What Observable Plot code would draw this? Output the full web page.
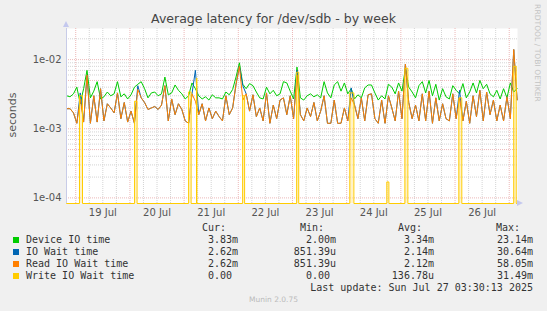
<!DOCTYPE html>
<html><head><meta charset="utf-8">
<script src="https://cdn.jsdelivr.net/npm/d3@7"></script>
<script src="https://cdn.jsdelivr.net/npm/@observablehq/plot@0.6"></script>
<style>
html,body{margin:0;padding:0;background:#f0f0f0;}
#wrap{position:relative;width:547px;height:311px;background:#f0f0f0;overflow:hidden;font-family:"DejaVu Sans",sans-serif;}
#wrap svg{position:absolute;left:0;top:0;}
.abs{position:absolute;white-space:pre;}
.mono{font-family:"DejaVu Sans Mono",monospace;font-size:10px;line-height:12px;color:#333;}
</style></head><body><div id="wrap"></div>
<script>
// ---- data (milliseconds), one sample every 1.5 h from 2025-07-18 20:00 UTC ----
const deviceIoMs = [3.0,2.9,3.2,4.0,2.3,3.8,7.0,2.8,3.5,4.8,2.7,2.9,3.4,3.0,3.2,4.8,2.9,3.2,2.7,3.1,4.0,4.4,4.8,
 3.8,2.8,3.3,3.4,3.0,3.2,5.6,3.1,3.3,4.3,3.6,3.2,2.7,3.0,4.6,3.8,3.0,2.7,2.9,2.6,3.1,2.8,
 2.8,2.7,3.4,3.1,3.7,5.6,9.0,4.4,3.8,4.5,4.2,3.4,2.8,2.7,4.0,3.2,3.6,3.0,3.2,4.8,4.6,3.5,2.7,
 7.8,2.8,2.6,3.0,3.2,2.9,3.1,2.8,4.8,3.3,2.8,4.3,4.8,3.5,4.6,3.2,3.8,2.7,3.1,2.8,3.9,4.3,
 4.3,3.3,2.6,3.0,2.7,4.4,4.0,3.2,4.6,3.5,7.5,4.0,3.4,2.8,4.2,4.8,3.3,5.0,3.0,4.4,2.6,3.8,2.9,
 2.7,4.2,3.6,3.2,4.5,2.8,3.4,4.6,3.3,5.0,3.8,4.4,3.2,2.9,3.6,2.7,3.8,2.8,4.6,3.4,3.83];
const readIoWaitMs = [1.95,1.95,1.7,1.2,2.7,1.25,6.0,1.2,3.0,1.25,3.8,1.3,2.3,2.0,1.7,3.3,1.4,2.4,1.25,1.8,1.2,3.7,2.8,
 2.4,1.9,2.0,2.1,1.9,2.2,4.2,1.3,2.7,1.6,2.3,1.9,1.3,1.2,3.2,2.5,1.6,2.3,1.3,2.0,1.4,1.8,
 1.5,1.3,3.0,1.6,2.0,4.4,8.0,2.6,3.2,1.8,3.1,1.5,2.0,1.3,3.3,1.2,2.2,1.4,2.6,2.8,1.6,3.0,1.4,
 6.0,1.6,1.3,2.0,1.5,2.4,1.3,1.8,3.0,1.2,1.2,2.6,1.2,1.2,2.0,1.3,2.8,2.2,1.4,2.8,1.3,3.1,
 3.2,1.4,1.2,2.6,1.2,3.0,2.0,1.3,3.5,1.4,8.6,2.4,1.4,2.2,1.3,3.2,1.3,3.5,1.2,2.8,1.3,2.3,1.4,
 1.3,3.2,1.4,2.8,1.3,2.5,1.2,3.0,1.5,3.6,1.3,3.4,1.6,2.6,1.3,2.2,1.3,2.9,1.4,14,2.62];
// IO wait time equals read wait except where writes happened (index -> ms)
const ioWaitDiffIndex = [4, 21, 38, 52, 68, 84, 116];
const ioWaitDiffMs    = [3.3, 4.2, 7.0, 4.2, 7.0, 3.9, 3.6];
// Write IO wait: zero except these bursts
const writeStart = ["2025-07-19T01:40Z","2025-07-20T02:04Z","2025-07-21T02:00Z","2025-07-21T05:30Z","2025-07-22T01:56Z","2025-07-23T01:52Z","2025-07-24T01:24Z","2025-07-24T17:48Z","2025-07-25T01:48Z","2025-07-26T01:42Z","2025-07-27T02:00Z"];
const writeEnd   = ["2025-07-19T03:00Z","2025-07-20T03:10Z","2025-07-21T03:06Z","2025-07-21T05:40Z","2025-07-22T02:48Z","2025-07-23T02:46Z","2025-07-24T03:12Z","2025-07-24T18:42Z","2025-07-25T03:06Z","2025-07-26T03:00Z","2025-07-27T03:06Z"];
const writePeakMs = [3.0,2.5,3.4,5.4,3.0,6.6,3.3,0.17,7.5,2.8,8.0];

const seriesNames = ["Device IO time","IO Wait time","Read IO Wait time","Write IO Wait time"];
const seriesColors = ["#00cc00","#0066b3","#ff8000","#ffcc00"];
const statCur = ["3.83m","2.62m","2.62m","0.00 "];
const statMin = ["2.00m","851.39u","851.39u","0.00 "];
const statAvg = ["3.34m","2.14m","2.12m","136.78u"];
const statMax = ["23.14m","30.64m","58.05m","31.49m"];

const yTicks = [1e-2, 5e-3, 1e-3, 5e-4, 1e-4];
const yTickLabels = ["1e-02","5e-03","1e-03","5e-04","1e-04"];
const xTickDates = ["2025-07-19T12:00Z","2025-07-20T12:00Z","2025-07-21T12:00Z","2025-07-22T12:00Z","2025-07-23T12:00Z","2025-07-24T12:00Z","2025-07-25T12:00Z","2025-07-26T12:00Z"];
const xTickLabels = ["19 Jul","20 Jul","21 Jul","22 Jul","23 Jul","24 Jul","25 Jul","26 Jul"];

// ---- build ----
const yMin = 8.3e-5, yMax = 2.82e-2;
const xStart = new Date("2025-07-18T19:55Z"), xEnd = new Date("2025-07-27T03:40Z");
const t0 = Date.parse("2025-07-18T20:00Z"), step = 1.5 * 3600e3;
const times = deviceIoMs.map((_, i) => new Date(t0 + i * step));
const toRows = arr => arr.map((v, i) => ({t: times[i], v: v / 1000}));
const device = toRows(deviceIoMs);
const read = toRows(readIoWaitMs);
const ioArr = readIoWaitMs.slice();
ioWaitDiffIndex.forEach((idx, k) => ioArr[idx] = ioWaitDiffMs[k]);
const ioWait = toRows(ioArr);
const write = [{t: times[0], v: 0}];
const spikes = [];
writeStart.forEach((s, k) => {
  const a = new Date(s), b = new Date(writeEnd[k]), p = writePeakMs[k] / 1000;
  write.push({t: a, v: 0}, {t: a, v: p}, {t: b, v: p}, {t: b, v: 0});
  spikes.push({a, b, p});
});
write.push({t: times[times.length - 1], v: 0});

const yMinor = [];
for (const e of [1e-4, 1e-3, 1e-2]) for (const m of [2,3,4,6,7,8,9]) if (m*e < yMax) yMinor.push(m*e);
const hours6 = d3.utcHour.every(6).range(xStart, xEnd);
const minorX = hours6.filter(d => d.getUTCHours() !== 0);
const majorX = hours6.filter(d => d.getUTCHours() === 0);
const yLab = new Map(yTicks.map((v, i) => [v, yTickLabels[i]]));
const xLab = new Map(xTickDates.map((d, i) => [+new Date(d), xTickLabels[i]]));
const fy = d => Math.max(d.v, yMin);
const dash = "1,1";

const chart = Plot.plot({
  width: 547, height: 311,
  marginLeft: 66, marginRight: 30, marginTop: 28, marginBottom: 108,
  style: {fontFamily: "DejaVu Sans", fontSize: "10px", color: "#555", background: "transparent", overflow: "visible"},
  x: {type: "utc", domain: [xStart, xEnd], axis: null, label: null},
  y: {type: "log", domain: [yMin, yMax], axis: null, label: null},
  marks: [
    Plot.frame({fill: "white", stroke: null}),
    Plot.ruleY(yMinor, {stroke: "#d4d4d4", strokeDasharray: dash}),
    Plot.ruleX(minorX, {stroke: "#d4d4d4", strokeDasharray: dash}),
    Plot.ruleY(yTicks, {stroke: "#ecb8b8", strokeDasharray: dash}),
    Plot.ruleX(majorX, {stroke: "#ecb8b8", strokeDasharray: dash}),
    Plot.rectY(spikes, {x1: "a", x2: "b", y1: yMin, y2: "p", fill: "#ffe79a", fillOpacity: 0.55}),
    Plot.lineY(device, {x: "t", y: fy, stroke: seriesColors[0], strokeWidth: 1}),
    Plot.lineY(ioWait, {x: "t", y: fy, stroke: seriesColors[1], strokeWidth: 1}),
    Plot.lineY(read, {x: "t", y: fy, stroke: seriesColors[2], strokeWidth: 1}),
    Plot.lineY(write, {x: "t", y: fy, stroke: seriesColors[3], strokeWidth: 1}),
    Plot.ruleX([xStart], {stroke: "#c8cce8"}),
    Plot.axisY({ticks: yTicks, tickFormat: d => yLab.get(d), tickSize: 0, tickPadding: 5, label: null}),
    Plot.axisX({ticks: xTickDates.map(d => new Date(d)), tickFormat: d => xLab.get(+d), tickSize: 0, tickPadding: 5, label: null})
  ]
});
const wrap = document.getElementById("wrap");
wrap.appendChild(chart);

function addDiv(text, css, cls) {
  const d = document.createElement("div");
  d.className = "abs" + (cls ? " " + cls : "");
  d.textContent = text;
  Object.assign(d.style, css);
  wrap.appendChild(d);
  return d;
}
function addBox(css) {
  const d = document.createElement("div");
  d.style.position = "absolute";
  Object.assign(d.style, css);
  wrap.appendChild(d);
}
// axis arrows (decoration)
addBox({left: "63px", top: "21px", width: "0", height: "0", borderLeft: "3px solid transparent", borderRight: "3px solid transparent", borderBottom: "6px solid #c4c8ee"});
addBox({left: "517px", top: "200px", width: "0", height: "0", borderTop: "3px solid transparent", borderBottom: "3px solid transparent", borderLeft: "6px solid #c4c8ee"});

addDiv("Average latency for /dev/sdb - by week", {left: "0px", width: "547px", textAlign: "center", top: "11px", fontSize: "12.5px", lineHeight: "15px", color: "#444"});
addDiv("seconds", {left: "11.5px", top: "114.5px", fontSize: "11px", lineHeight: "13px", color: "#555", transform: "translate(-50%,-50%) rotate(-90deg)"});
addDiv("RRDTOOL / TOBI OETIKER", {left: "537px", top: "53px", fontSize: "7.6px", lineHeight: "9px", color: "#c4c4c4", transform: "translate(-50%,-50%) rotate(90deg)"});

const rowY = [240, 252, 264, 276];
const colRight = [238, 336, 434, 533];
const headRight = [226, 324, 422, 520];
["Cur:","Min:","Avg:","Max:"].forEach((h, k) => addDiv(h, {right: (547 - headRight[k]) + "px", top: (228 - 6) + "px"}, "mono"));
seriesNames.forEach((name, i) => {
  addBox({left: "13px", top: (rowY[i] - 3) + "px", width: "6px", height: "6px", background: seriesColors[i]});
  addDiv(name, {left: "26px", top: (rowY[i] - 6) + "px"}, "mono");
  [statCur, statMin, statAvg, statMax].forEach((col, k) =>
    addDiv(col[i], {right: (547 - colRight[k]) + "px", top: (rowY[i] - 6) + "px"}, "mono"));
});
addDiv("Last update: Sun Jul 27 03:30:13 2025", {right: (547 - 533) + "px", top: (288 - 6) + "px"}, "mono");
addDiv("Munin 2.0.75", {left: "0px", width: "547px", textAlign: "center", top: "295px", fontSize: "7.5px", lineHeight: "9px", color: "#bbb"});
</script></body></html>
